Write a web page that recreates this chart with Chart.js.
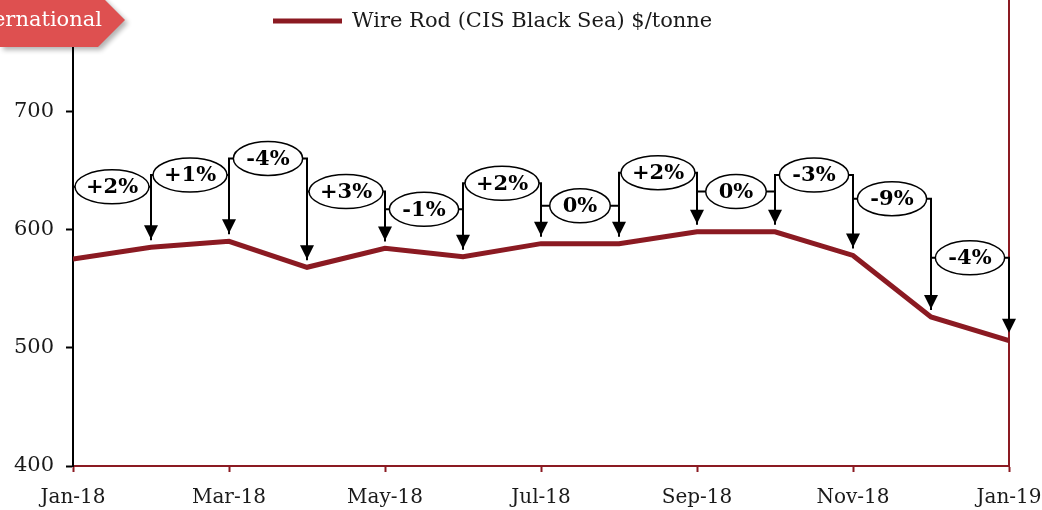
<!DOCTYPE html>
<html>
<head>
<meta charset="utf-8">
<script src="https://cdn.jsdelivr.net/npm/chart.js@4.4.1/dist/chart.umd.min.js"></script>
<style>
  html, body { margin: 0; padding: 0; background: #fff; }
  #wrap { width: 1042px; height: 510px; position: relative; }
</style>
</head>
<body>
<div id="wrap"><canvas id="chart" width="1042" height="510"></canvas></div>
<script>
const months = ['Jan-18', 'Feb-18', 'Mar-18', 'Apr-18', 'May-18', 'Jun-18', 'Jul-18',
    'Aug-18', 'Sep-18', 'Oct-18', 'Nov-18', 'Dec-18', 'Jan-19'];
const wireRod = [575, 585, 590, 568, 584, 577, 588, 588, 598, 598, 578, 526, 506];
const changeLabels = ['+2%', '+1%', '-4%', '+3%', '-1%', '+2%', '0%', '+2%', '0%', '-3%', '-9%', '-4%'];
// height (in $/tonne) where each change bubble sits
const labelLevels = [636, 646, 660, 632, 617, 639, 620, 648, 632, 646, 626, 576];
const yTicks = [400, 500, 600, 700];
const xTicks = [0, 2, 4, 6, 8, 10, 12];

const RED = '#8B1A22';
const SERIF = '"DejaVu Serif", "Liberation Serif", serif';

const changePlugin = {
    id: 'changes',
    beforeDatasetsDraw(chart) {
        // red frame on the right
        const ctx = chart.ctx;
        const area = chart.chartArea;
        ctx.save();
        ctx.strokeStyle = RED;
        ctx.lineWidth = 2;
        ctx.beginPath();
        ctx.moveTo(area.right, 0);
        ctx.lineTo(area.right, area.bottom);
        ctx.stroke();
        ctx.restore();
    },
    afterDatasetsDraw(chart) {
        const ctx = chart.ctx;
        const xs = chart.scales.x;
        const ys = chart.scales.y;
        ctx.save();
        ctx.strokeStyle = '#000';
        ctx.fillStyle = '#000';
        ctx.lineWidth = 2;
        ctx.font = 'bold 21px ' + SERIF;
        changeLabels.forEach((txt, i) => {
            const x0 = xs.getPixelForValue(i);
            const x1 = xs.getPixelForValue(i + 1);
            const yL = ys.getPixelForValue(labelLevels[i]);
            const yA = ys.getPixelForValue(wireRod[i]) - 7;
            const yB = ys.getPixelForValue(wireRod[i + 1]) - 8;
            const tw = ctx.measureText(txt).width;
            const rx = Math.min(tw + 26, x1 - x0 - 4) / 2;
            const ry = 17;
            const cx = (x0 + x1) / 2;

            ctx.beginPath();
            ctx.moveTo(x0, yA);
            ctx.lineTo(x0, yL);
            ctx.lineTo(cx - rx, yL);
            ctx.moveTo(cx + rx, yL);
            ctx.lineTo(x1, yL);
            ctx.lineTo(x1, yB - 13);
            ctx.stroke();

            ctx.beginPath();
            ctx.moveTo(x1 - 7, yB - 14);
            ctx.lineTo(x1 + 7, yB - 14);
            ctx.lineTo(x1, yB);
            ctx.closePath();
            ctx.fill();

            ctx.beginPath();
            ctx.ellipse(cx, yL, rx, ry, 0, 0, Math.PI * 2);
            ctx.fillStyle = '#fff';
            ctx.fill();
            ctx.lineWidth = 1.5;
            ctx.stroke();
            ctx.lineWidth = 2;
            ctx.fillStyle = '#000';
            ctx.textAlign = 'center';
            ctx.textBaseline = 'middle';
            ctx.fillText(txt, cx, yL + 1);
        });
        ctx.restore();
    },
    afterDraw(chart) {
        const ctx = chart.ctx;
        ctx.save();
        // legend
        ctx.strokeStyle = RED;
        ctx.lineWidth = 5;
        ctx.beginPath();
        ctx.moveTo(273, 21);
        ctx.lineTo(342, 21);
        ctx.stroke();
        ctx.fillStyle = '#1a1a1a';
        ctx.font = '21px ' + SERIF;
        ctx.textAlign = 'left';
        ctx.textBaseline = 'middle';
        ctx.fillText('Wire Rod (CIS Black Sea) $/tonne', 352, 22);

        // section banner
        ctx.shadowColor = 'rgba(0,0,0,0.3)';
        ctx.shadowBlur = 5;
        ctx.shadowOffsetX = 3;
        ctx.shadowOffsetY = 3;
        ctx.fillStyle = '#DE5050';
        ctx.beginPath();
        ctx.moveTo(0, -7);
        ctx.lineTo(98, -7);
        ctx.lineTo(125, 20);
        ctx.lineTo(98, 47);
        ctx.lineTo(0, 47);
        ctx.closePath();
        ctx.fill();
        ctx.shadowColor = 'transparent';
        ctx.fillStyle = '#fff';
        ctx.font = '21px ' + SERIF;
        ctx.textAlign = 'right';
        ctx.fillText('International', 102, 21);
        ctx.restore();
    }
};

new Chart(document.getElementById('chart'), {
    type: 'line',
    data: {
        datasets: [{
            label: 'Wire Rod (CIS Black Sea) $/tonne',
            data: wireRod.map((v, i) => ({ x: i, y: v })),
            borderColor: RED,
            borderWidth: 5,
            pointRadius: 0,
            tension: 0,
            fill: false
        }]
    },
    options: {
        responsive: false,
        animation: false,
        devicePixelRatio: 1,
        layout: { padding: { top: 0, right: 33, left: 0, bottom: 0 } },
        plugins: { legend: { display: false }, tooltip: { enabled: false } },
        scales: {
            x: {
                type: 'linear',
                min: 0,
                max: 12,
                afterBuildTicks: scale => { scale.ticks = xTicks.map(v => ({ value: v })); },
                afterFit: scale => {
                    scale.height = 44;
                    scale.paddingLeft = 0;
                    scale.paddingRight = 0;
                },
                ticks: {
                    callback: v => months[v],
                    color: '#1a1a1a',
                    font: { family: SERIF, size: 20 },
                    padding: 14,
                    maxRotation: 0
                },
                grid: { drawOnChartArea: false, drawTicks: true, tickLength: 6, tickColor: RED, tickWidth: 2, color: RED },
                border: { color: RED, width: 2 }
            },
            y: {
                min: 400,
                max: 794,
                afterBuildTicks: scale => { scale.ticks = yTicks.map(v => ({ value: v })); },
                afterFit: scale => {
                    scale.width = 73;
                    scale.paddingTop = 0;
                    scale.paddingBottom = 0;
                },
                ticks: {
                    color: '#1a1a1a',
                    font: { family: SERIF, size: 21 },
                    padding: 12
                },
                grid: { drawOnChartArea: false, drawTicks: true, tickLength: 7, tickColor: '#000', tickWidth: 2 },
                border: { color: '#000', width: 2 }
            }
        }
    },
    plugins: [changePlugin]
});
</script>
</body>
</html>
